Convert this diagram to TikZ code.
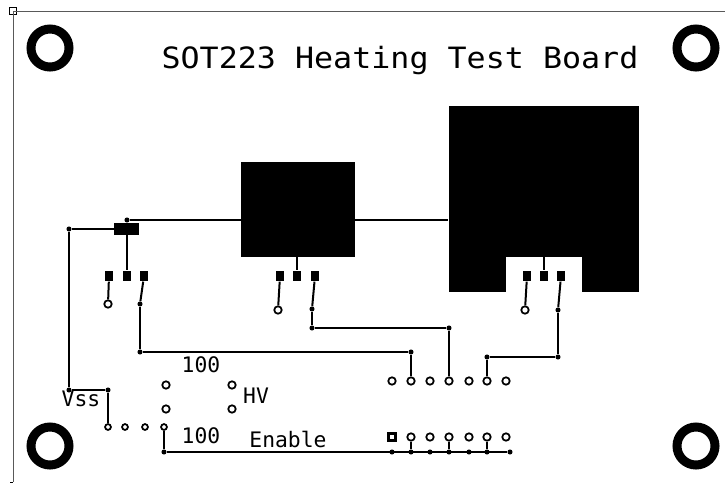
\documentclass[tikz,border=0pt]{standalone}
\usepackage{fontspec}
\newfontfamily\boardfont{DejaVu Sans Mono}
\newfontfamily\titlefont[FakeStretch=1.08]{DejaVu Sans Mono}
\tikzset{
  pad/.style={rectangle,fill=black,inner sep=0,minimum width=6.6pt,minimum height=8pt},
  via/.style={circle,draw,fill=white,line width=1.3pt,inner sep=0,minimum size=5.6pt},
  smallvia/.style={via,minimum size=4.4pt},
  dot/.style={circle,fill=black,inner sep=0,minimum size=3.8pt},
  hole/.style={circle,draw,line width=6.75pt,inner sep=0,minimum size=28.5pt},
  pour/.style={rectangle,fill=black,inner sep=0},
  wire/.style={line width=1.5pt},
  silk/.style={inner sep=0,anchor=base,font=\boardfont\fontsize{16}{16}\selectfont}
}
\begin{document}
\begin{tikzpicture}[x=0.75pt,y=0.75pt,yscale=-1,xscale=1]
        \useasboundingbox (0,0) rectangle (725,483);
        % board outline
        \node [draw,line width=0.5pt,inner sep=0,minimum size=5pt] (corner) at (13,11) {};
        \coordinate (edgetop) at (725,11);
        \coordinate (edgeleft) at (13,482);
        \draw [line width=0.7pt,gray!70!black] (corner.center) -- (edgetop);
        \draw [line width=0.7pt,gray!70!black] (corner.center) -- (edgeleft);
        \draw [line width=0.7pt] (10,482) -- (edgeleft);
        % mounting holes
        \node [hole] (holea) at (50,48) {};
        \node [hole] (holeb) at (696,48) {};
        \node [hole] (holec) at (50,446) {};
        \node [hole] (holed) at (696,446) {};
        % copper
        \node [pour,minimum width=142.5pt,minimum height=139.5pt] (bigpour) at (543.5,199) {};
        \node [rectangle,fill=white,inner sep=0,minimum width=57pt,minimum height=26.25pt] (bignotch) at (544,274.5) {};
        \node [pour,minimum width=85.5pt,minimum height=71.25pt] (midpour) at (298,209.5) {};
        \node [pour,minimum width=18.75pt,minimum height=9pt] (smallpour) at (126.5,229) {};
        % pads
        \node [pad] (pada) at (109,276) {};
        \node [pad] (padb) at (127,276) {};
        \node [pad] (padc) at (144,276) {};
        \node [pad] (padd) at (280,276) {};
        \node [pad] (pade) at (297,276) {};
        \node [pad] (padf) at (315,276) {};
        \node [pad] (padg) at (527,276) {};
        \node [pad] (padh) at (544,276) {};
        \node [pad] (padi) at (561,276) {};
        % junctions
        \node [dot] (dottop) at (127,220) {};
        \node [dot] (dotleft) at (69,229) {};
        \node [dot] (dotvss) at (69,390) {};
        \node [dot] (dotvssb) at (108,390) {};
        \node [dot] (dota) at (140,304) {};
        \node [dot] (dotb) at (140,352) {};
        \node [dot] (dotc) at (411,352) {};
        \node [dot] (dotd) at (312,309) {};
        \node [dot] (dote) at (312,328) {};
        \node [dot] (dotf) at (449,328) {};
        \node [dot] (dotg) at (558,310) {};
        \node [dot] (doth) at (558,357) {};
        \node [dot] (doti) at (487,357) {};
        \node [dot] (dotj) at (164,452) {};
        \node [dot] (rowa) at (392,452) {};
        \node [dot] (rowb) at (411,452) {};
        \node [dot] (rowc) at (430,452) {};
        \node [dot] (rowd) at (449,452) {};
        \node [dot] (rowe) at (469,452) {};
        \node [dot] (rowf) at (487,452) {};
        \node [dot] (rowg) at (510,452) {};
        % vias
        \node [via] (viaa) at (108,304) {};
        \node [via] (viab) at (278,310) {};
        \node [via] (viac) at (525,310) {};
        \node [via] (vupa) at (392,381) {};
        \node [via] (vupb) at (411,381) {};
        \node [via] (vupc) at (430,381) {};
        \node [via] (vupd) at (449,381) {};
        \node [via] (vupe) at (469,381) {};
        \node [via] (vupf) at (487,381) {};
        \node [via] (vupg) at (506,381) {};
        \node [rectangle,draw,line width=2.5pt,fill=white,inner sep=0,minimum size=5pt] (vlowa) at (392,437) {};
        \node [via] (vlowb) at (411,437) {};
        \node [via] (vlowc) at (430,437) {};
        \node [via] (vlowd) at (449,437) {};
        \node [via] (vlowe) at (469,437) {};
        \node [via] (vlowf) at (487,437) {};
        \node [via] (vlowg) at (506,437) {};
        \node [via] (vhva) at (166,385) {};
        \node [via] (vhvb) at (166,409) {};
        \node [via] (vhvc) at (232,385) {};
        \node [via] (vhvd) at (232,409) {};
        \node [smallvia] (vssa) at (108,427) {};
        \node [smallvia] (vssb) at (125,427) {};
        \node [smallvia] (vssc) at (145,427) {};
        \node [smallvia] (vssd) at (164,427) {};
        % traces
        \draw [wire] (dottop) -- (dottop -| bigpour.west);
        \draw [wire] (dottop) -- (smallpour.north -| dottop);
        \draw [wire] (dotleft) -- (smallpour);
        \draw [wire] (dotleft) -- (dotvss);
        \draw [wire] (dotvss) -- (dotvssb);
        \draw [wire] (dotvssb) -- (vssa);
        \draw [wire] (smallpour.south -| padb) -- (padb);
        \draw [wire] (pada) -- (viaa);
        \draw [wire] (padc) -- (dota);
        \draw [wire] (dota) -- (dotb);
        \draw [wire] (dotb) -- (dotc);
        \draw [wire] (dotc) -- (vupb);
        \draw [wire] (midpour.south -| pade) -- (pade);
        \draw [wire] (padd) -- (viab);
        \draw [wire] (padf) -- (dotd);
        \draw [wire] (dotd) -- (dote);
        \draw [wire] (dote) -- (dotf);
        \draw [wire] (dotf) -- (vupd);
        \draw [wire] (bignotch.north) -- (padh);
        \draw [wire] (padg) -- (viac);
        \draw [wire] (padi) -- (dotg);
        \draw [wire] (dotg) -- (doth);
        \draw [wire] (doth) -- (doti);
        \draw [wire] (doti) -- (vupf);
        \draw [wire] (vssd) -- (dotj);
        \draw [wire] (dotj) -- (rowg);
        \draw [wire] (vlowb) -- (rowb);
        \draw [wire] (vlowd) -- (rowd);
        \draw [wire] (vlowf) -- (rowf);
        % silkscreen
        \node [silk,font=\titlefont\fontsize{22}{22}\selectfont] (title) at (400,68) {SOT223 Heating Test Board};
        \node [silk] (lblvss) at (81,406) {Vss};
        \node [silk] (lblhv) at (256,403) {HV};
        \node [silk] (lblup) at (201,372) {100};
        \node [silk] (lbllow) at (201,443) {100};
        \node [silk] (lblen) at (288,447) {Enable};
    \end{tikzpicture}
\end{document}
